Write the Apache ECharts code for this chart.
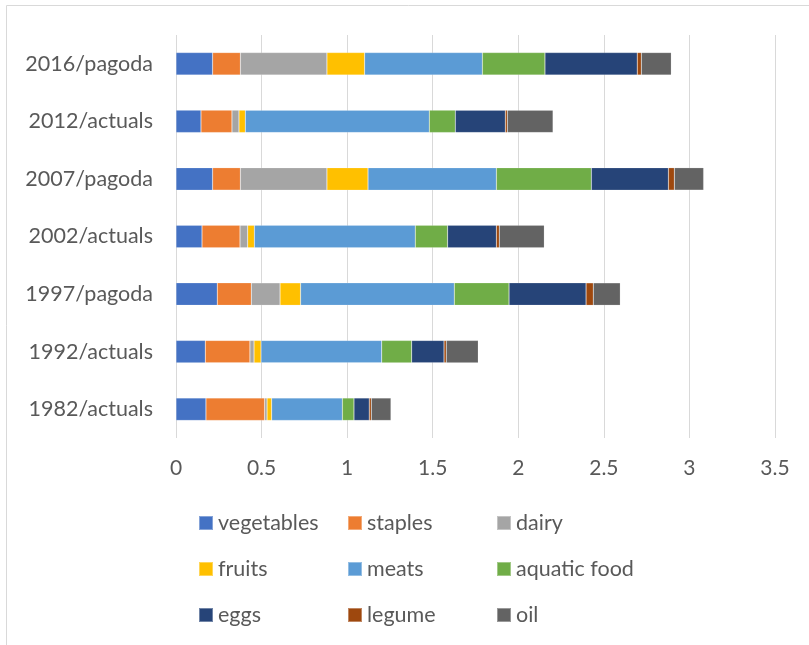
<!DOCTYPE html>
<html>
<head>
<meta charset="utf-8">
<script src="https://cdn.jsdelivr.net/npm/echarts@6/dist/echarts.min.js"></script>
<style>html,body{margin:0;padding:0;background:#fff;}#c{width:809px;height:645px;}</style>
</head>
<body>
<div id="c"></div>
<script>
const categories = ['1982/actuals', '1992/actuals', '1997/pagoda', '2002/actuals', '2007/pagoda', '2012/actuals', '2016/pagoda'];
const vegetables = [0.175, 0.171, 0.241, 0.152, 0.214, 0.146, 0.214];
const staples    = [0.343, 0.261, 0.199, 0.222, 0.162, 0.181, 0.162];
const dairy      = [0.014, 0.024, 0.168, 0.045, 0.506, 0.041, 0.506];
const fruits     = [0.027, 0.041, 0.120, 0.039, 0.240, 0.037, 0.220];
const meats      = [0.413, 0.705, 0.898, 0.940, 0.750, 1.075, 0.688];
const aquatic    = [0.068, 0.175, 0.320, 0.189, 0.555, 0.152, 0.366];
const eggs       = [0.089, 0.189, 0.450, 0.285, 0.450, 0.292, 0.539];
const legume     = [0.012, 0.013, 0.042, 0.017, 0.035, 0.012, 0.024];
const oil        = [0.115, 0.187, 0.158, 0.263, 0.171, 0.267, 0.175];
const xTicks = { min: 0, max: 3.5, interval: 0.5 };

const seriesDefs = [
  ['vegetables', vegetables, '#4472C4'],
  ['staples', staples, '#ED7D31'],
  ['dairy', dairy, '#A5A5A5'],
  ['fruits', fruits, '#FFC000'],
  ['meats', meats, '#5B9BD5'],
  ['aquatic food', aquatic, '#70AD47'],
  ['eggs', eggs, '#264478'],
  ['legume', legume, '#9E480E'],
  ['oil', oil, '#636363']
];
const FONT = 'Lato';
const chart = echarts.init(document.getElementById('c'), null, { renderer: 'canvas' });
const legendBase = {
  orient: 'vertical', top: 512, padding: 0, itemWidth: 14, itemHeight: 14, itemGap: 24, icon: 'rect',
  textStyle: { fontFamily: FONT, fontSize: 21.5, color: '#595959', lineHeight: 21 },
  selectedMode: false
};
chart.setOption({
  animation: false,
  color: seriesDefs.map(d => d[2]),
  graphic: [{
    type: 'rect', shape: { x: 6.5, y: 5.5, width: 900, height: 700 },
    style: { fill: 'none', stroke: '#d9d9d9', lineWidth: 1 }, silent: true, z: -1
  }],
  grid: { left: 176, right: 34, top: 35, bottom: 207, containLabel: false },
  legend: [
    Object.assign({}, legendBase, { left: 198, data: ['vegetables', 'fruits', 'eggs'] }),
    Object.assign({}, legendBase, { left: 347, data: ['staples', 'meats', 'legume'] }),
    Object.assign({}, legendBase, { left: 496, data: ['dairy', 'aquatic food', 'oil'] })
  ],
  xAxis: {
    type: 'value', min: xTicks.min, max: xTicks.max, interval: xTicks.interval,
    axisLine: { show: false }, axisTick: { show: false },
    splitLine: { show: true, lineStyle: { color: '#d9d9d9', width: 1 } },
    axisLabel: { fontFamily: FONT, fontSize: 21, color: '#595959', margin: 20 }
  },
  yAxis: {
    type: 'category', data: categories,
    axisLine: { show: false }, axisTick: { show: false },
    axisLabel: { fontFamily: FONT, fontSize: 21.5, color: '#595959', margin: 23 }
  },
  series: seriesDefs.map(d => ({
    name: d[0], type: 'bar', stack: 'total', data: d[1],
    barCategoryGap: '61%',
    itemStyle: { color: d[2], borderColor: 'rgba(255,255,255,0.35)', borderWidth: 0.5 }
  }))
});
</script>
</body>
</html>
